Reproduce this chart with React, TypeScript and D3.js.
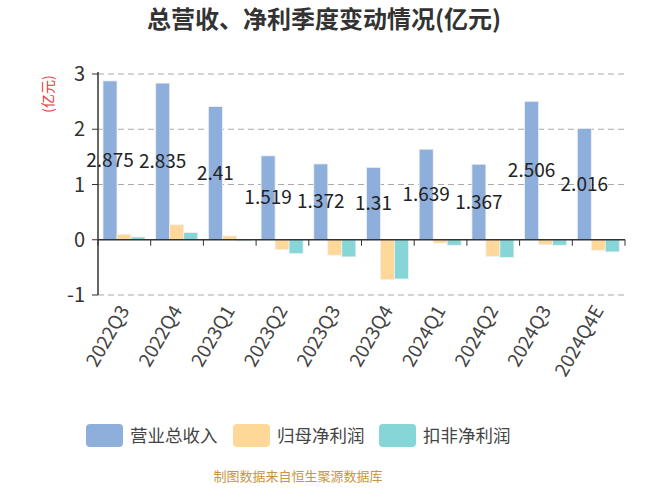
import React from "react";
import * as d3 from "d3";

const categories = ["2022Q3", "2022Q4", "2023Q1", "2023Q2", "2023Q3", "2023Q4", "2024Q1", "2024Q2", "2024Q3", "2024Q4E"];
const revenue = [2.875, 2.835, 2.41, 1.519, 1.372, 1.31, 1.639, 1.367, 2.506, 2.016];
const netProfit = [0.1, 0.27, 0.07, -0.18, -0.28, -0.72, -0.06, -0.3, -0.09, -0.19];
const deductedProfit = [0.05, 0.13, -0.02, -0.25, -0.31, -0.71, -0.1, -0.32, -0.1, -0.22];
const seriesNames = ["营业总收入", "归母净利润", "扣非净利润"];
const colors = ["#8eaedb", "#fdd899", "#86d6d8"];
const yTicks = [-1, 0, 1, 2, 3];

const W = 650, H = 488;
const left = 98, right = 625, top = 74, bottom = 295;
const FONT = "'Noto Sans CJK SC', 'Open Sans', sans-serif";

export default function App() {
  const x = d3.scaleBand<string>().domain(categories).range([left, right]);
  const y = d3.scaleLinear().domain([-1, 3]).range([bottom, top]);
  const series = [revenue, netProfit, deductedProfit];
  const bw = 14;
  const pad = 5;
  const legendX = [86, 233, 379];

  return (
    <svg width={W} height={H} style={{ position: "absolute", left: 0, top: 0, fontFamily: FONT }}>
      <rect width={W} height={H} fill="#fff" />
      <text x={324} y={28} textAnchor="middle" fontSize={24} fontWeight="bold" fill="#333">总营收、净利季度变动情况(亿元)</text>
      <text transform={`translate(48,94) rotate(-90)`} textAnchor="middle" dy="0.35em" fontSize={14} fill="#e33">(亿元)</text>
      {yTicks.filter(t => t !== 0).map(t => (
        <line key={t} x1={left} x2={right} y1={y(t)} y2={y(t)} stroke="#aaa" strokeDasharray="6,4" strokeWidth={1.2} />
      ))}
      {yTicks.map(t => (
        <g key={"yt" + t}>
          <line x1={left - 6} x2={left} y1={y(t)} y2={y(t)} stroke="#333" />
          <text x={left - 13} y={y(t)} dy="0.35em" textAnchor="end" fontSize={20} fill="#333">{t}</text>
        </g>
      ))}
      {series.map((vals, si) =>
        vals.map((v, i) => {
          const x0 = (x(categories[i]) as number) + pad + si * bw;
          const y0 = Math.min(y(v), y(0));
          const h = Math.abs(y(v) - y(0));
          return <rect key={si + "-" + i} x={x0} y={y0} width={bw} height={h} fill={colors[si]} stroke="#f0f0f0" strokeWidth={0.8} />;
        })
      )}
      <line x1={left} x2={right} y1={y(0)} y2={y(0)} stroke="#333" strokeWidth={1.5} />
      {d3.range(categories.length + 1).map(i => {
        const xx = left + i * x.bandwidth();
        return <line key={"xt" + i} x1={xx} x2={xx} y1={y(0)} y2={y(0) + 6} stroke="#333" />;
      })}
      <line x1={left} x2={left} y1={top - 2} y2={bottom} stroke="#333" strokeWidth={1.5} />
      {revenue.map((v, i) => {
        const cx = (x(categories[i]) as number) + pad + bw / 2;
        const cy = (y(v) + y(0)) / 2;
        return <text key={"lbl" + i} x={cx} y={cy} dy="0.35em" textAnchor="middle" fontSize={19} fill="#222">{v}</text>;
      })}
      {categories.map((c, i) => {
        const cx = (x(c) as number) + x.bandwidth() / 2;
        return (
          <text key={"xl" + c} transform={`translate(${cx},${bottom + 12}) rotate(-60)`} textAnchor="end" dy="0.35em" fontSize={19} fill="#444">{c}</text>
        );
      })}
      {seriesNames.map((n, i) => (
        <g key={"lg" + n}>
          <rect x={legendX[i]} y={424} width={37} height={23} rx={4} fill={colors[i]} />
          <text x={legendX[i] + 44} y={436} dy="0.35em" fontSize={17.5} fill="#444">{n}</text>
        </g>
      ))}
      <text x={298} y={481} textAnchor="middle" fontSize={13} fill="#c8963c">制图数据来自恒生聚源数据库</text>
    </svg>
  );
}
